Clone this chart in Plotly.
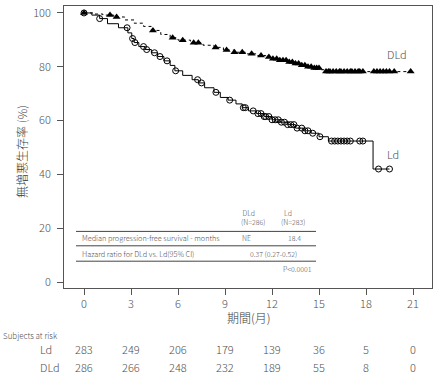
import numpy as np
import plotly.graph_objects as go

# ---------------- data ----------------
dld_t = [0, 0.6, 1.2, 1.9, 2.6, 3.2, 3.8, 4.3, 4.9, 5.5, 6.0, 6.8, 7.6, 8.3, 8.9, 9.6,
         10.3, 11.0, 11.6, 12.0, 12.5, 13.0, 13.4, 13.9, 14.3, 14.7, 15.1, 15.4, 20.9]
dld_s = [100, 99.6, 99.2, 98.5, 97.4, 96.2, 95.0, 93.5, 92.0, 90.8, 89.9, 88.9, 88.0, 87.2,
         86.2, 85.4, 84.8, 84.2, 83.6, 83.0, 82.4, 81.8, 81.2, 80.6, 80.0, 79.5, 78.9, 78.2, 78.2]
dld_cens = [0, 1.66, 2.08, 4.4, 5.66, 6.3, 7.0, 7.3, 8.4, 9.1, 9.6, 10.1, 10.7, 11.3, 11.8,
            12.06, 12.3, 12.5, 12.7, 12.9, 13.1, 13.3, 13.5, 13.7, 13.9, 14.1, 14.3, 14.5,
            14.7, 14.85, 15.0, 15.45, 15.6, 15.7, 15.9, 16.1, 16.3, 16.4, 16.6, 16.8, 17.0,
            17.1, 17.3, 17.5, 17.6, 17.8, 18.5, 18.7, 18.9, 19.1, 19.3, 19.5, 19.8, 20.85]

ld_t = [0, 0.5, 1.0, 1.5, 2.2, 2.8, 3.05, 3.2, 3.5, 3.9, 4.3, 4.7, 5.1, 5.5, 5.8, 6.3, 6.9,
        7.3, 7.7, 8.3, 8.7, 9.2, 9.7, 10.1, 10.5, 11.0, 11.5, 12.0, 12.5, 13.0, 13.5, 14.0,
        14.5, 15.0, 15.6, 18.45, 19.5]
ld_s = [100, 99.2, 97.9, 96.0, 94.5, 92.6, 90.5, 89.0, 87.5, 86.4, 85.2, 83.8, 82.2, 80.5,
        78.5, 76.8, 75.2, 74.0, 72.2, 70.5, 68.6, 67.6, 66.2, 64.8, 63.6, 62.6, 61.5, 60.3,
        59.4, 58.5, 57.2, 56.2, 55.3, 54.0, 52.4, 42.0, 42.0]
ld_cens = [0, 1.0, 2.75, 3.1, 3.25, 3.8, 4.0, 4.5, 4.85, 5.3, 5.85, 7.25, 7.5, 8.42, 9.3,
           10.17, 10.3, 10.8, 11.1, 11.3, 11.5, 11.6, 11.8, 12.0, 12.2, 12.4, 12.6, 12.8,
           13.0, 13.2, 13.4, 13.6, 13.9, 14.1, 14.3, 14.6, 15.06, 15.8, 16.0, 16.2, 16.4,
           16.6, 16.8, 17.0, 17.6, 17.8, 18.8, 19.5]

months = [0, 3, 6, 9, 12, 15, 18, 21]
risk_ld = [283, 249, 206, 179, 139, 36, 5, 0]
risk_dld = [286, 266, 248, 232, 189, 55, 8, 0]


def step_at(t, s, c):
    idx = np.searchsorted(np.array(t), np.array(c), side="right") - 1
    return list(np.array(s)[idx])


FONT = "Noto Sans CJK JP, Noto Sans, sans-serif"
TXT = "#505050"

fig = go.Figure()
fig.add_trace(go.Scatter(x=dld_t, y=dld_s, mode="lines", line_shape="hv",
                         line=dict(color="black", width=1, dash="3px,3px"),
                         hoverinfo="skip"))
fig.add_trace(go.Scatter(x=ld_t, y=ld_s, mode="lines", line_shape="hv",
                         line=dict(color="black", width=1), hoverinfo="skip"))
fig.add_trace(go.Scatter(x=dld_cens, y=step_at(dld_t, dld_s, dld_cens), mode="markers",
                         marker=dict(symbol="triangle-up", size=7, color="black")))
fig.add_trace(go.Scatter(x=ld_cens, y=step_at(ld_t, ld_s, ld_cens), mode="markers",
                         marker=dict(symbol="circle-open", size=6, color="black",
                                     line=dict(width=1))))

# plot area in pixels
L, R, T, B = 64, 432, 4, 288


def px(x):
    return (x - L) / (R - L)


def py(y):
    return (B - y) / (B - T)


ann = []


def add(text, x, y, size=8, xanchor="left", angle=0, color=TXT):
    ann.append(dict(text=text, x=px(x), y=py(y), xref="paper", yref="paper",
                    showarrow=False, xanchor=xanchor, yanchor="middle", align="left",
                    textangle=angle,
                    font=dict(family=FONT, size=size, color=color, weight=300)))


# curve labels
add("DLd", 397, 52, size=11, xanchor="center")
add("Ld", 393, 153, size=11, xanchor="center")

# inner table
add(" DLd<br>(N=286)", 239, 217, size=7)
add("  Ld<br>(N=283)", 279, 217, size=7)
add("Median progression-free survival - months", 80, 237.5, size=7.3)
add("NE", 240, 237.5, size=7)
add("18.4", 286, 237.5, size=7)
add("Hazard ratio for DLd vs. Ld(95% CI)", 80, 253.5, size=7.3)
add("0.37 (0.27-0.52)", 248, 253.5, size=7)
add("P<0.0001", 281, 269, size=7)

# axis titles
add("期間(月)", 249, 318, size=12, xanchor="center", color="#3a3a3a")
add("無増悪生存率 (%)", 22, 151, size=12, xanchor="center", angle=-90, color="#3a3a3a")

# at-risk table
add("Subjects at risk", 1, 336, size=8)
add("Ld", 38, 349, size=11)
add("DLd", 38, 368, size=11)
for m, a, b in zip(months, risk_ld, risk_dld):
    xp = 84 + m * (413 - 84) / 21
    add(str(a), xp, 349, size=11, xanchor="center")
    add(str(b), xp, 368, size=11, xanchor="center")

shapes = []
for yy in [231, 245.5, 261]:
    shapes.append(dict(type="line", xref="paper", yref="paper", x0=px(76), x1=px(316),
                       y0=py(yy), y1=py(yy), line=dict(color="#444", width=1)))

x0v = -(84 - L) / (413 - 84) * 21
x1v = 21 + (R - 413) / (413 - 84) * 21
y_per = 54.2 / 20
y0v = -(B - 282) / y_per
y1v = 100 + (11 - T) / y_per

fig.update_layout(
    width=439, height=374,
    margin=dict(l=L, r=439 - R, t=T, b=374 - B),
    paper_bgcolor="white", plot_bgcolor="white",
    showlegend=False,
    annotations=ann, shapes=shapes,
    font=dict(family=FONT, color=TXT, size=11),
    xaxis=dict(range=[x0v, x1v], tickvals=months, showline=True, mirror=True,
               linecolor="#555", linewidth=1, ticks="outside", ticklen=6,
               tickcolor="#555", showgrid=False, zeroline=False,
               tickfont=dict(size=11, color=TXT, family=FONT, weight=300)),
    yaxis=dict(range=[y0v, y1v], tickvals=[0, 20, 40, 60, 80, 100], showline=True,
               mirror=True, linecolor="#555", linewidth=1, ticks="outside", ticklen=6,
               tickcolor="#555", showgrid=False, zeroline=False,
               ticklabelstandoff=4,
               tickfont=dict(size=11, color=TXT, family=FONT, weight=300)),
)

fig.write_html("out.html", config={"displayModeBar": False},
               post_script="document.body.style.margin='0';document.body.style.padding='0';")
